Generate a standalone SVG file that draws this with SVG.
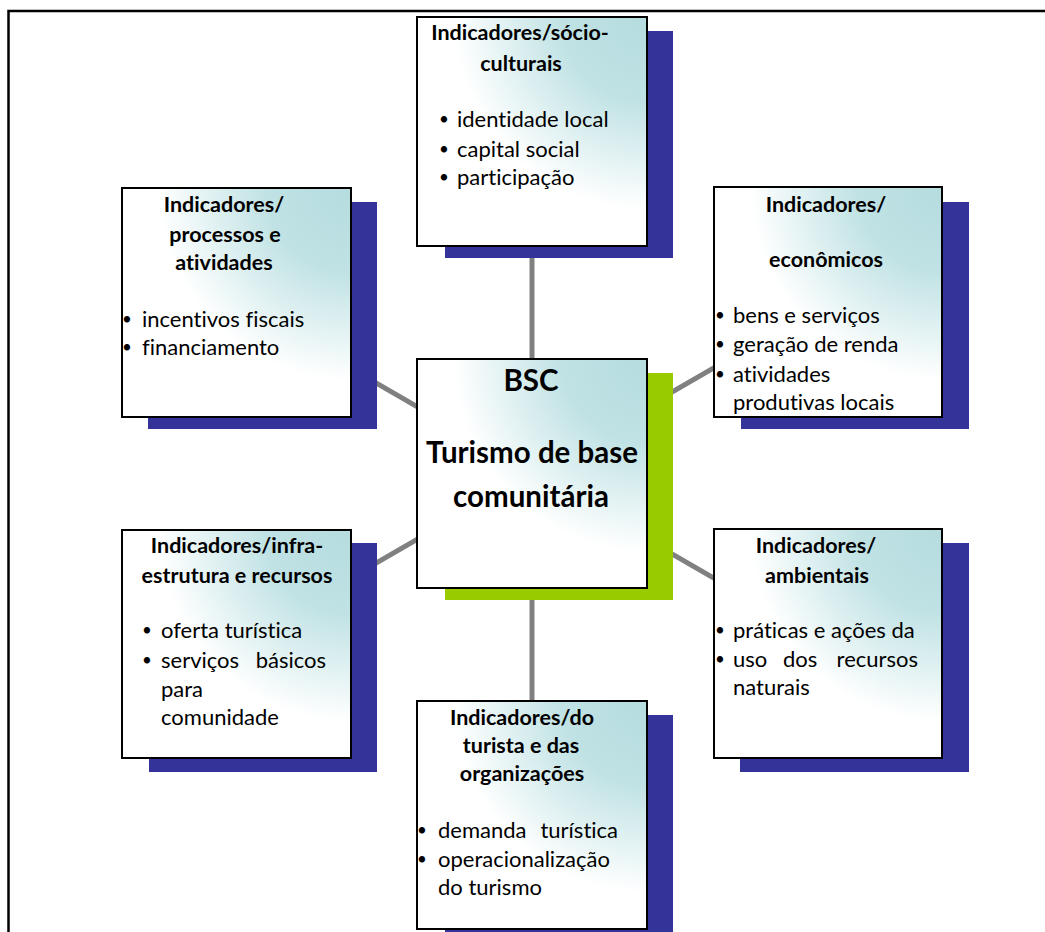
<svg xmlns="http://www.w3.org/2000/svg" width="1045" height="932" viewBox="0 0 1045 932">
<defs>
<radialGradient id="fill" cx="1" cy="0" r="1.05" fx="1" fy="0">
<stop offset="0" stop-color="#b5dcdf"/>
<stop offset="0.35" stop-color="#c0e2e4"/>
<stop offset="0.8" stop-color="#ffffff"/>
<stop offset="1" stop-color="#ffffff"/>
</radialGradient>
<style>
.box{fill:url(#fill);stroke:#000;stroke-width:2}
.sh{fill:#333399}
.shg{fill:#99cc00}
.conn{stroke:#808080;stroke-width:5;fill:none}
text{font-family:Lato,"Liberation Sans",sans-serif;fill:#000;font-variant-ligatures:none}
.t{font-size:21.5px;font-weight:bold;text-anchor:middle}
.b{font-size:22px}
.d{font-size:17px}
.c{font-size:29.5px;font-weight:bold;text-anchor:middle}
</style>
</defs>
<rect width="1045" height="932" fill="#fff"/>
<path d="M8.5 932 V11 H1045" fill="none" stroke="#000" stroke-width="2.5"/>
<g id="connectors">
<line class="conn" x1="532" y1="246" x2="532" y2="359"/>
<line class="conn" x1="532" y1="588" x2="532" y2="701"/>
<line class="conn" x1="532" y1="473" x2="236" y2="302"/>
<line class="conn" x1="532" y1="473" x2="828" y2="302"/>
<line class="conn" x1="532" y1="473" x2="236" y2="644"/>
<line class="conn" x1="532" y1="473" x2="828" y2="644"/>
</g>
<g id="node-socio">
<rect class="sh" x="445" y="31" width="228" height="227"/>
<rect class="box" x="417" y="17" width="230" height="229"/>
<text class="t" x="520" y="40">Indicadores/sócio-</text>
<text class="t" x="521" y="71">culturais</text>
<text class="d" x="439" y="125">•</text><text class="b" x="457" y="127">identidade local</text>
<text class="d" x="439" y="155">•</text><text class="b" x="457" y="157">capital social</text>
<text class="d" x="439" y="183">•</text><text class="b" x="457" y="185">participação</text>
</g>
<g id="node-processos">
<rect class="sh" x="148" y="202" width="229" height="227"/>
<rect class="box" x="122" y="188" width="229" height="229"/>
<text class="t" x="224" y="212">Indicadores/</text>
<text class="t" x="225" y="242">processos e</text>
<text class="t" x="224" y="270">atividades</text>
<text class="d" x="122" y="325">•</text><text class="b" x="142" y="327">incentivos fiscais</text>
<text class="d" x="122" y="353">•</text><text class="b" x="142" y="355">financiamento</text>
</g>
<g id="node-economicos">
<rect class="sh" x="741" y="202" width="228" height="227"/>
<rect class="box" x="714" y="187" width="228" height="230"/>
<text class="t" x="826" y="212">Indicadores/</text>
<text class="t" x="826" y="267">econômicos</text>
<text class="d" x="715" y="321">•</text><text class="b" x="733" y="323">bens e serviços</text>
<text class="d" x="715" y="350">•</text><text class="b" x="733" y="352">geração de renda</text>
<text class="d" x="715" y="380">•</text><text class="b" x="733" y="382">atividades</text>
<text class="b" x="733" y="410">produtivas locais</text>
</g>
<g id="node-bsc">
<rect class="shg" x="445" y="373" width="228" height="227"/>
<rect class="box" x="417" y="359" width="230" height="229"/>
<text class="c" x="531" y="391">BSC</text>
<text class="c" x="532" y="463">Turismo de base</text>
<text class="c" x="531" y="507">comunitária</text>
</g>
<g id="node-infra">
<rect class="sh" x="149" y="543" width="228" height="229"/>
<rect class="box" x="122" y="530" width="229" height="228"/>
<text class="t" x="237" y="553">Indicadores/infra-</text>
<text class="t" x="237" y="583">estrutura e recursos</text>
<text class="d" x="142" y="636">•</text><text class="b" x="161" y="638">oferta turística</text>
<text class="d" x="142" y="666">•</text><text class="b" y="668"><tspan x="161">serviços</tspan><tspan x="326" text-anchor="end">básicos</tspan></text>
<text class="b" x="161" y="697">para</text>
<text class="b" x="161" y="725">comunidade</text>
</g>
<g id="node-ambientais">
<rect class="sh" x="740" y="543" width="229" height="229"/>
<rect class="box" x="714" y="529" width="228" height="229"/>
<text class="t" x="816" y="553">Indicadores/</text>
<text class="t" x="817" y="583">ambientais</text>
<text class="d" x="715" y="636">•</text><text class="b" x="733" y="638">práticas e ações da</text>
<text class="d" x="715" y="665">•</text><text class="b" y="667"><tspan x="733">uso</tspan><tspan x="783">dos</tspan><tspan x="918" text-anchor="end">recursos</tspan></text>
<text class="b" x="733" y="695">naturais</text>
</g>
<g id="node-turista">
<rect class="sh" x="445" y="715" width="228" height="230"/>
<rect class="box" x="417" y="701" width="230" height="228"/>
<text class="t" x="522" y="725">Indicadores/do</text>
<text class="t" x="521" y="753">turista e das</text>
<text class="t" x="522" y="781">organizações</text>
<text class="d" x="417" y="836">•</text><text class="b" y="838"><tspan x="438">demanda</tspan><tspan x="618" text-anchor="end">turística</tspan></text>
<text class="d" x="417" y="865">•</text><text class="b" x="438" y="867">operacionalização</text>
<text class="b" x="438" y="895">do turismo</text>
</g>
</svg>
